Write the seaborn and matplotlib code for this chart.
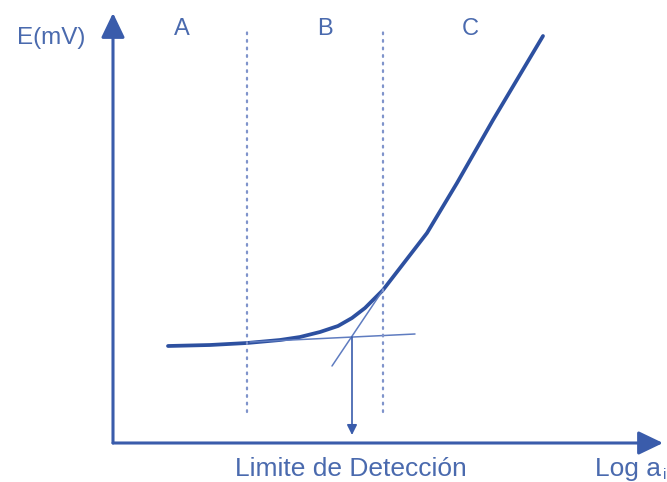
import matplotlib
matplotlib.use("Agg")
import matplotlib.pyplot as plt
import seaborn as sns
import pandas as pd

# ---- data (arbitrary units: x = log a_i, y = E in mV) ----
log_a = [1.10, 1.94, 2.68, 3.34, 3.74, 4.14, 4.50, 4.78, 5.04, 5.40,
         5.74, 6.28, 6.88, 7.60, 8.60]
E_mv = [1.94, 1.96, 2.00, 2.06, 2.12, 2.22, 2.34, 2.50, 2.70, 3.06,
        3.50, 4.20, 5.20, 6.46, 8.14]

baseline_x = [2.74, 6.04]
baseline_y = [2.02, 2.18]
slope_x = [4.38, 5.40]
slope_y = [1.54, 3.06]

zone_bounds = [2.68, 5.40]
zone_y = [0.62, 8.26]
zone_labels = ["A", "B", "C"]
zone_label_x = [1.38, 4.24, 7.14]

lod_x = 4.78
lod_y = 2.12

sns.set_theme(style="white")
plt.rcParams["font.family"] = ["Liberation Sans", "DejaVu Sans"]

AX = "#3a5cab"
CURVE = "#2d50a0"
TXT = "#4a6aae"
THIN = "#5f7cc0"
DOT = "#7f93cb"

fig = plt.figure(figsize=(6.67, 4.82), dpi=100)
ax = fig.add_axes([0, 0, 1, 1])
ax.set_xlim(-2.26, 11.08)
ax.set_ylim(-0.78, 8.86)
ax.axis("off")

df = pd.DataFrame({"log_a": log_a, "E": E_mv})
sns.lineplot(data=df, x="log_a", y="E", sort=False, estimator=None,
             color=CURVE, lw=2.7, ax=ax, solid_capstyle="round",
             solid_joinstyle="round")

ax.plot(baseline_x, baseline_y, color=THIN, lw=1.1)
ax.plot(slope_x, slope_y, color=THIN, lw=1.1)

for xb in zone_bounds:
    ax.plot([xb, xb], zone_y, color=DOT, lw=1.6, linestyle=(0, (0.8, 2.6)),
            dash_capstyle="round")

for lab, lx in zip(zone_labels, zone_label_x):
    ax.text(lx, 8.28, lab, color=TXT, fontsize=17, ha="center", va="center")

# axes arrows
arrow = dict(arrowstyle="-|>,head_length=0.75,head_width=0.36",
             color=AX, lw=2.2, mutation_scale=20, shrinkA=0, shrinkB=0)
ax.annotate("", xy=(0, 8.6), xytext=(0, 0), arrowprops=arrow)
ax.annotate("", xy=(11.0, 0), xytext=(0, 0), arrowprops=arrow)

# detection-limit arrow
small = dict(arrowstyle="-|>,head_length=0.5,head_width=0.25",
             color=AX, lw=1.2, mutation_scale=12, shrinkA=0, shrinkB=0)
ax.annotate("", xy=(lod_x, 0.16), xytext=(lod_x, lod_y), arrowprops=small)

ax.text(-1.24, 8.1, "E(mV)", color=TXT, fontsize=17.5, ha="center", va="center")
ax.text(lod_x - 0.02, -0.52, "Limite de Detección", color=TXT, fontsize=19,
        ha="center", va="center")
ax.text(9.64, -0.52, "Log a", color=TXT, fontsize=19, ha="left", va="center")
ax.text(11.0, -0.64, "i", color=TXT, fontsize=11, ha="left", va="center")

fig.savefig("out.png", dpi=100)
